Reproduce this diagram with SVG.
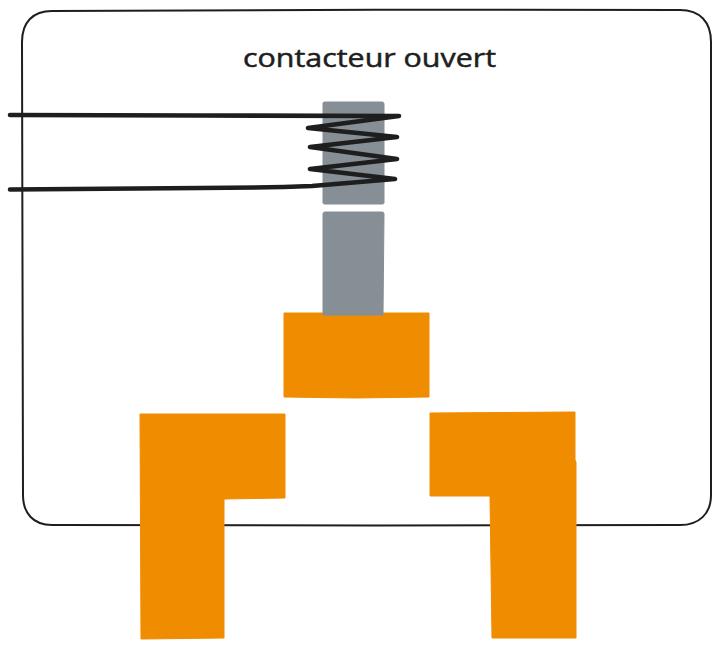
<svg xmlns="http://www.w3.org/2000/svg" width="721" height="647" viewBox="0 0 721 647">
<style>
.orange{fill:#f08c00;stroke:#f08c00;stroke-width:1;stroke-linejoin:round}
.gray{fill:#868e96;stroke:#868e96;stroke-width:1;stroke-linejoin:round}
.wire{fill:none;stroke:#1e1e1e;stroke-width:4.6;stroke-linecap:round;stroke-linejoin:round}
.frame{fill:none;stroke:#1e1e1e;stroke-width:2}
.label{font-family:"Open Sans","Liberation Sans",sans-serif;font-size:25px;fill:#1e1e1e;stroke:#1e1e1e;stroke-width:.5}
</style>
<rect width="721" height="647" fill="#ffffff"/>
<g id="enclosure"><path class="frame" d="M52 11C250 9 480 10 680 10C700 10 711 22 711 42C710 200 711 350 711 495C711 514 699 525 680 525C480 526 250 525 52 525C33 525 23 513 23 495C22 350 22 200 22 42C22 22 33 11 52 11Z"/></g>
<g id="title"><text class="label" x="243" y="67" textLength="253" lengthAdjust="spacingAndGlyphs">contacteur ouvert</text></g>
<g id="core-top"><path class="gray" d="M323 103Q323 102 325 102L382 102Q384 102 384 104L384 203Q384 204 382 204L325 204Q323 204 323 203Z"/></g>
<g id="contact-moving"><path class="orange" d="M284 313L429 313L429 397L355 398L284 397Z"/></g>
<g id="core-bottom"><path class="gray" d="M323 214Q323 212 325 212L382 212Q384 212 384 214L383 315L323 315Z"/></g>
<g id="contact-left"><path class="orange" d="M140 414L285 414L285 498L224 499L224 638L141 639Z"/></g>
<g id="contact-right"><path class="orange" d="M430 413L575 412L575 460L576 462L576 638L492 638L490 496L430 496Z"/></g>
<g id="connectors">
<path class="wire" d="M10 115L200 115.500L399 116L308 128L397 137L310 147L397 159L310 169L395 179L312 186Q260 188 200 188L10 189.500"/>
</g>
</svg>
